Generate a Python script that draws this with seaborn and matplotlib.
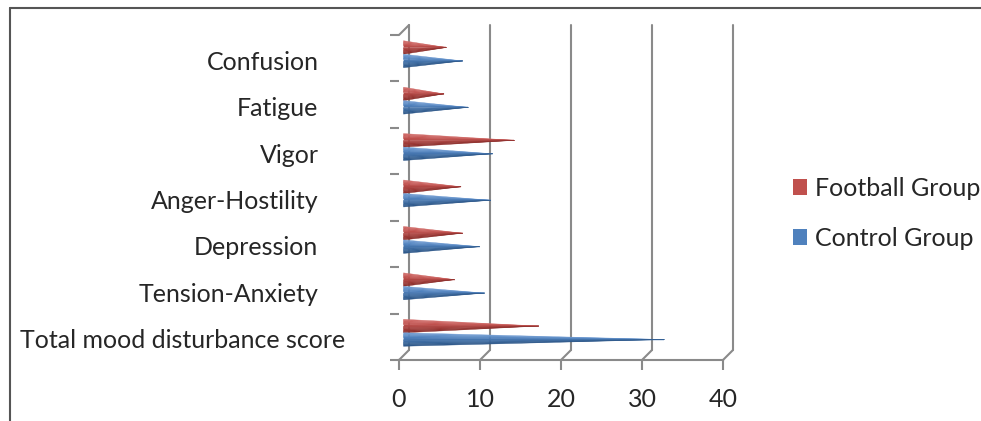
import pandas as pd
import matplotlib
matplotlib.use("Agg")
import matplotlib.pyplot as plt
import matplotlib.transforms as mtransforms
from matplotlib.patches import Polygon, Patch
from matplotlib.lines import Line2D
import seaborn as sns

categories = ["Confusion", "Fatigue", "Vigor", "Anger-Hostility", "Depression",
              "Tension-Anxiety", "Total mood disturbance score"]
football = [5.3, 5.0, 13.7, 7.1, 7.3, 6.3, 16.7]
control = [7.3, 8.0, 11.0, 10.8, 9.4, 10.0, 32.2]
groups = ["Football Group", "Control Group"]
x_ticks = [0, 10, 20, 30, 40]

df = pd.DataFrame({
    "category": categories * 2,
    "value": football + control,
    "group": [groups[0]] * len(categories) + [groups[1]] * len(categories),
})

colors = {"Football Group": "#C0504D", "Control Group": "#4F81BD"}
light = {"Football Group": "#D4726F", "Control Group": "#77A1D6"}
dark = {"Football Group": "#8A2D2A", "Control Group": "#2C5687"}
grid_col = "#8A8A8A"

sns.set_style("white")
plt.rcParams["font.family"] = ["Lato", "DejaVu Sans"]
FS = 18

W, H = 981, 421
fig = plt.figure(figsize=(W / 100, H / 100), dpi=100)
ax_left, ax_right, ax_top, ax_bot = 399, 723, 35, 360
ax = fig.add_axes([ax_left / W, 1 - ax_bot / H, (ax_right - ax_left) / W, (ax_bot - ax_top) / H])

sns.barplot(data=df, y="category", x="value", hue="group", hue_order=groups,
            order=categories, palette=colors, width=0.58, orient="h",
            legend=False, ax=ax)

ax.set_xlim(0, 40)
ax.set_ylim(len(categories) - 0.5, -0.5)


def mix(c1, c2, t):
    a = matplotlib.colors.to_rgb(c1)
    b = matplotlib.colors.to_rgb(c2)
    return tuple(x + (y - x) * t for x, y in zip(a, b))


# turn flat bars into cones, shifted to the middle of the 3d depth
cone_shift = mtransforms.ScaledTranslation(4.5 / 100, 4 / 100, fig.dpi_scale_trans)
n_bands = 10
for p in list(ax.patches):
    fc = p.get_facecolor()[:3]
    g = min(groups, key=lambda k: sum((a - b) ** 2 for a, b in
                                      zip(fc, matplotlib.colors.to_rgb(colors[k]))))
    x0, y0, w, h = p.get_x(), p.get_y(), p.get_width(), p.get_height()
    tip = (x0 + w, y0 + h / 2)
    for i in range(n_bands):
        t = (i + 0.5) / n_bands
        if t < 0.35:
            c = mix(light[g], colors[g], t / 0.35)
        else:
            c = mix(colors[g], dark[g], (t - 0.35) / 0.65)
        pts = [(x0, y0 + h * i / n_bands), (x0, y0 + h * (i + 1) / n_bands), tip]
        ax.add_patch(Polygon(pts, closed=True, facecolor=c, edgecolor=c, lw=0.3,
                             transform=ax.transData + cone_shift, clip_on=False,
                             zorder=5))
    p.remove()

# back wall and depth lines
depth_px = 10
dx = depth_px * 40 / (ax_right - ax_left)
dy = depth_px * len(categories) / (ax_bot - ax_top)
y_bot, y_top = len(categories) - 0.5, -0.5
for xt in x_ticks:
    ax.plot([xt + dx, xt + dx], [y_bot - dy, y_top - dy], color=grid_col, lw=1.5,
            clip_on=False, zorder=1)
    ax.plot([xt, xt + dx], [y_bot, y_bot - dy], color=grid_col, lw=1.5,
            clip_on=False, zorder=1)
ax.plot([0, dx], [y_top, y_top - dy], color=grid_col, lw=1.5, clip_on=False, zorder=1)

# axes styling
for side in ["left", "top", "right"]:
    ax.spines[side].set_visible(False)
ax.spines["bottom"].set_color(grid_col)
ax.spines["bottom"].set_linewidth(1.5)
ax.set_xticks(x_ticks)
ax.set_xticklabels([str(t) for t in x_ticks])
ax.set_yticks([i - 0.5 for i in range(len(categories) + 1)], minor=True)
ax.tick_params(axis="x", which="major", length=7, width=1.5, color=grid_col,
               labelsize=FS, pad=13.5, direction="out", bottom=True)
ax.tick_params(axis="y", which="minor", length=6.5, width=1.5, color=grid_col,
               left=True, direction="out")
ax.tick_params(axis="y", which="major", length=0, labelsize=FS, pad=58)
ax.set_xlabel("")
ax.set_ylabel("")

lbl = ax.get_yticklabels()[-1]
lbl.set_transform(lbl.get_transform() +
                  mtransforms.ScaledTranslation(27 / 100, 0, fig.dpi_scale_trans))
for lb in ax.get_yticklabels():
    lb.set_transform(lb.get_transform() +
                     mtransforms.ScaledTranslation(0, -2 / 100, fig.dpi_scale_trans))

handles = [Patch(facecolor=colors[g], edgecolor="none", label=g) for g in groups]
fig.legend(handles=handles, loc="center left", bbox_to_anchor=(793 / W, 1 - 213.5 / H),
           frameon=False, fontsize=FS, handlelength=0.56, handleheight=0.6,
           handletextpad=0.32, labelspacing=1.08, borderpad=0, borderaxespad=0)

# outer frame (top and left only)
fig.add_artist(Line2D([10 / W, 1], [1 - 8 / H, 1 - 8 / H], transform=fig.transFigure,
                      color="#555555", lw=1.5))
fig.add_artist(Line2D([10 / W, 10 / W], [0, 1 - 8 / H], transform=fig.transFigure,
                      color="#555555", lw=1.5))

fig.savefig("out.png", dpi=100)
plt.close(fig)
